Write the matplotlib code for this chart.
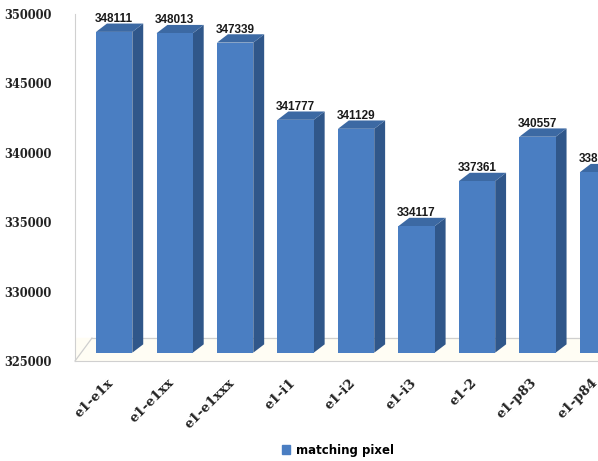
import matplotlib
matplotlib.use("Agg")
import matplotlib.pyplot as plt
import matplotlib.transforms as mtransforms
from matplotlib.patches import Patch

categories = ["e1-e1x", "e1-e1xx", "e1-e1xxx", "e1-i1", "e1-i2", "e1-i3", "e1-2", "e1-p83", "e1-p84"]
values = [348111, 348013, 347339, 341777, 341129, 334117, 337361, 340557, 338000]
series_name = "matching pixel"
y_ticks = [325000, 330000, 335000, 340000, 345000, 350000]

FRONT = "#4A7EC2"
SIDE = "#30578A"
TOP = "#3C69A3"

fig = plt.figure(figsize=(5.98, 4.61), dpi=100)
ax = fig.add_axes([75 / 598, 1 - 361 / 461, (598 - 75) / 598, (361 - 14) / 461])

y0, y1 = 325000, 350000
ax.set_ylim(y0, y1)
ax.set_xlim(-0.648, 7.93)

half_w = 0.30
dx = 0.18      # depth shift in x (data units)
dz = 600       # depth shift in y (data units)
shift = 600    # front-face lift

# floor back line & wall
xl = -0.648
ax.plot([xl, xl + 0.28], [y0, y0 + 1650], color="#cfcfcf", lw=0.9, zorder=1, clip_on=False)
ax.plot([xl + 0.28, 8.5], [y0 + 1650, y0 + 1650], color="#cfcfcf", lw=0.9, zorder=1)
ax.axhspan(y0, y0 + 1650, color="#fffdf4", zorder=0)

xs = list(range(len(categories)))
ax.bar(xs, [v - y0 for v in values], bottom=y0 + shift, width=2 * half_w,
       color=FRONT, edgecolor="none", zorder=3)
for x, v in zip(xs, values):
    # side face
    ax.fill([x + half_w, x + half_w + dx, x + half_w + dx, x + half_w],
            [y0 + shift, y0 + shift + dz, v + shift + dz, v + shift],
            color=SIDE, lw=0, zorder=2)
    # top face
    ax.fill([x - half_w, x + half_w, x + half_w + dx, x - half_w + dx],
            [v + shift, v + shift, v + shift + dz, v + shift + dz],
            color=TOP, lw=0, zorder=2)
    ax.annotate(f"{v}", (x, v + shift + dz), xytext=(0, -1), textcoords="offset points",
                ha="center", va="bottom", fontsize=8.5, fontweight="bold",
                family="Liberation Sans", color="#1a1a1a", zorder=5, annotation_clip=False)

ax.set_yticks(y_ticks)
ax.set_yticklabels([str(t) for t in y_ticks], family="DejaVu Serif", fontweight="bold",
                   fontsize=8.3, color="#222222")
ax.tick_params(axis="y", length=0, pad=17)

ax.set_xticks(xs)
ax.set_xticklabels(categories, rotation=45, ha="right", rotation_mode="anchor",
                   family="DejaVu Serif", fontweight="bold", fontsize=9.5, color="#222222")
ax.tick_params(axis="x", length=0, pad=11)
offset = mtransforms.ScaledTranslation(-7 / 100, 0, fig.dpi_scale_trans)
for lab in ax.get_xticklabels():
    lab.set_transform(lab.get_transform() + offset)

for s in ["top", "right"]:
    ax.spines[s].set_visible(False)
ax.spines["left"].set_color("#d0d0d0")
ax.spines["bottom"].set_color("#d0d0d0")
ax.set_facecolor("none")

fig.legend(handles=[Patch(color=FRONT, label=series_name)], loc="center",
           bbox_to_anchor=(338 / 598, 1 - 450 / 461), frameon=False,
           handlelength=0.7, handleheight=0.7, handletextpad=0.5,
           prop={"family": "DejaVu Sans", "weight": "bold", "size": 8.5})

fig.savefig("out.png", dpi=100)
